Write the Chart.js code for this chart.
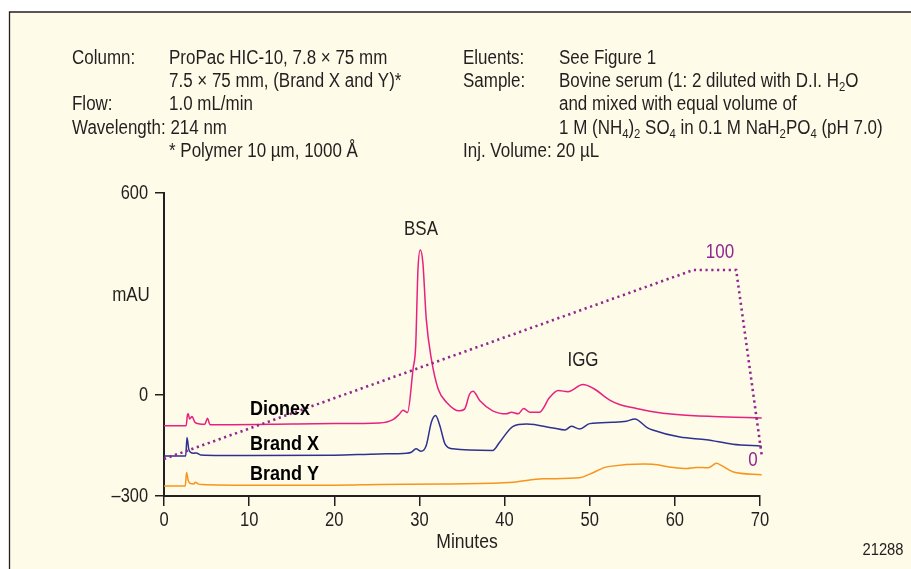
<!DOCTYPE html>
<html>
<head>
<meta charset="utf-8">
<script src="https://cdn.jsdelivr.net/npm/chart.js@4.4.1/dist/chart.umd.min.js"></script>
<style>
html,body{margin:0;padding:0;background:#fff;}
canvas{display:block;}
</style>
</head>
<body>
<canvas id="c" width="911" height="569"></canvas>
<script>
// ---- data ----
const xTicks = [0, 10, 20, 30, 40, 50, 60, 70];
const yTicks = [-300, 0, 600];

const dionexTime = [0, 2.6, 2.75, 2.85, 3.0, 3.3, 3.6, 4.2, 4.8, 5.1, 5.4, 8, 15, 20, 25.3, 26.9, 27.6, 28.07, 28.6, 29.25, 29.56, 29.83, 30.1, 30.4, 30.8, 31.4, 32.2, 33.2, 34.7, 35.3, 35.9, 36.3, 37.1, 38.6, 40.2, 40.8, 41.6, 42.25, 42.95, 44.1, 45.3, 46.3, 47.45, 49.2, 50.4, 52.35, 53.5, 55.5, 57.05, 60.2, 64.5, 70.2];
const dionexMAU  = [-91, -91, -60, -56, -71, -64, -80, -86, -87, -69, -88, -88, -86, -85, -83, -73, -58, -45, -52, 77, 146, 374, 431, 394, 226, 107, 18, -22, -47, -42, 3, 11, -17, -47, -56, -51, -56, -40, -51, -51, -7, 13, 10, 31, 20, -15, -28, -40, -48, -58, -64, -68];

const brandXTime = [0, 2.55, 2.7, 2.9, 3.1, 3.5, 3.8, 4.3, 10, 20, 25.3, 28.5, 29.05, 29.6, 30.2, 30.8, 31.4, 31.9, 32.4, 33.0, 33.9, 38.6, 39.4, 41.0, 42.6, 45.7, 47.1, 47.85, 48.8, 50.0, 52.7, 54.3, 55.3, 56.7, 57.4, 60.6, 63.7, 66.8, 70.2];
const brandXMAU  = [-181, -181, -126, -160, -170, -173, -172, -178, -180, -179, -175, -173, -170, -160, -167, -150, -81, -61, -91, -145, -160, -165, -141, -93, -86, -98, -104, -93, -101, -85, -81, -78, -71, -96, -104, -125, -133, -146, -152];

const brandYTime = [0, 2.5, 2.65, 2.85, 3.1, 3.5, 3.7, 4.0, 4.5, 10, 20, 25.3, 33.2, 41.0, 44.5, 48.8, 50.0, 51.8, 52.35, 56.3, 57.4, 59.8, 61.4, 62.5, 63.9, 64.9, 65.5, 66.8, 70.2];
const brandYMAU  = [-270, -270, -230, -255, -263, -264, -259, -264, -266, -268, -268, -266, -264, -259, -249, -246, -235, -215, -212, -205, -206, -215, -218, -215, -216, -203, -210, -228, -237];

const gradientTime = [0, 62.2, 67.2, 70.2];
const gradientPct  = [0, 100, 100, 2];

// ---- helpers ----
function pts(t, v) { return t.map((x, i) => ({ x: x, y: v[i] })); }

const FONT = '"Liberation Sans", Arial, sans-serif';
const INK = '#231F20';
const PINK = '#E8207F';
const BLUE = '#2E3192';
const ORANGE = '#F7941D';
const PURPLE = '#92278F';
const SX = 0.87;   // horizontal condensing to imitate a condensed face

function T(ctx, str, x, y, o) {
  o = o || {};
  const size = o.size || 19.5;
  const sx = o.sx || SX;
  ctx.save();
  ctx.font = (o.bold ? 'bold ' : '') + size + 'px ' + FONT;
  ctx.fillStyle = o.color || INK;
  ctx.textAlign = o.align || 'left';
  ctx.textBaseline = o.base || 'alphabetic';
  ctx.translate(x, y);
  ctx.scale(sx, 1);
  ctx.fillText(str, 0, 0);
  ctx.restore();
}

function rich(ctx, x, y, segs, size) {
  let cx = x;
  segs.forEach(s => {
    const sub = Array.isArray(s);
    const txt = sub ? s[0] : s;
    const fs = sub ? Math.round(size * 0.68) : size;
    ctx.font = fs + 'px ' + FONT;
    T(ctx, txt, cx, sub ? y + 4 : y, { size: fs });
    cx += ctx.measureText(txt).width * SX;
  });
}

const decor = {
  id: 'decor',
  beforeDraw(chart) {
    const ctx = chart.ctx;
    ctx.save();
    ctx.fillStyle = '#ffffff';
    ctx.fillRect(0, 0, 911, 569);
    ctx.fillStyle = '#FEFCE8';
    ctx.fillRect(10, 12, 901, 557);
    ctx.strokeStyle = '#231F20';
    ctx.lineWidth = 1.3;
    ctx.beginPath();
    ctx.moveTo(9.5, 569); ctx.lineTo(9.5, 12); ctx.lineTo(911, 12);
    ctx.stroke();
    ctx.restore();
  },
  afterDraw(chart) {
    const ctx = chart.ctx;
    const S = 19.5;
    const rows = [64, 87, 110, 134, 157];
    const L1 = 72, L2 = 169, R1 = 463, R2 = 559;
    T(ctx, 'Column:', L1, rows[0]);
    T(ctx, 'ProPac HIC-10, 7.8 \u00D7 75 mm', L2, rows[0]);
    T(ctx, '7.5 \u00D7 75 mm, (Brand X and Y)*', L2, rows[1]);
    T(ctx, 'Flow:', L1, rows[2]);
    T(ctx, '1.0 mL/min', L2, rows[2]);
    T(ctx, 'Wavelength: 214 nm', L1, rows[3]);
    T(ctx, '* Polymer 10 \u00B5m, 1000 \u00C5', L2, rows[4]);

    T(ctx, 'Eluents:', R1, rows[0]);
    T(ctx, 'See Figure 1', R2, rows[0]);
    T(ctx, 'Sample:', R1, rows[1]);
    rich(ctx, R2, rows[1], ['Bovine serum (1: 2 diluted with D.I. H', ['2'], 'O'], S);
    T(ctx, 'and mixed with equal volume of', R2, rows[2]);
    rich(ctx, R2, rows[3], ['1 M (NH', ['4'], ')', ['2'], ' SO', ['4'], ' in 0.1 M NaH', ['2'], 'PO', ['4'], ' (pH 7.0)'], S);
    T(ctx, 'Inj. Volume: 20 \u00B5L', R1, rows[4]);

    // tick labels, placed through the library's scales
    const xs = chart.scales.x, ys = chart.scales.y;
    xTicks.forEach(v => T(ctx, String(v), xs.getPixelForValue(v), 521, { align: 'center', base: 'middle', sx: 0.85 }));
    yTicks.forEach(v => T(ctx, v < 0 ? '\u2013' + Math.abs(v) : String(v), 148, ys.getPixelForValue(v) + 1, { align: 'right', base: 'middle', sx: 0.84 }));

    const mid = { align: 'center', base: 'middle' };
    T(ctx, 'mAU', 131, 296, mid);
    T(ctx, 'BSA', 421, 230, mid);
    T(ctx, 'IGG', 583, 361, mid);
    T(ctx, 'Minutes', 467, 543, { align: 'center', base: 'middle', sx: 0.9 });
    T(ctx, '21288', 883, 550, { align: 'center', base: 'middle', size: 17, sx: 0.87 });

    T(ctx, '100', 720, 253, { align: 'center', base: 'middle', color: PURPLE });
    T(ctx, '0', 753, 461, { align: 'center', base: 'middle', color: PURPLE });

    const b = { bold: true, size: 20, sx: 0.9, base: 'middle', color: '#000' };
    T(ctx, 'Dionex', 250, 409, b);
    T(ctx, 'Brand X', 250, 444, b);
    T(ctx, 'Brand Y', 250, 474, b);
  }
};

const lineDs = (label, data, color) => ({
  label, data, borderColor: color, borderWidth: 1.5, pointRadius: 0,
  cubicInterpolationMode: 'monotone', fill: false, yAxisID: 'y'
});

new Chart(document.getElementById('c'), {
  type: 'line',
  data: {
    datasets: [
      {
        label: 'Gradient', data: pts(gradientTime, gradientPct), yAxisID: 'y2',
        borderColor: PURPLE, borderWidth: 2.6, borderDash: [2.2, 3.6], pointRadius: 0,
        tension: 0, fill: false
      },
      lineDs('Brand Y', pts(brandYTime, brandYMAU), ORANGE),
      lineDs('Brand X', pts(brandXTime, brandXMAU), BLUE),
      lineDs('Dionex', pts(dionexTime, dionexMAU), PINK)
    ]
  },
  options: {
    responsive: false,
    devicePixelRatio: 1,
    animation: false,
    clip: false,
    layout: { padding: { top: 193, right: 151, left: 0, bottom: 0 } },
    plugins: { legend: { display: false }, tooltip: { enabled: false } },
    scales: {
      x: {
        type: 'linear', min: 0, max: 70,
        afterFit: s => { s.height = 73; },
        afterBuildTicks: s => { s.ticks = xTicks.map(v => ({ value: v })); },
        ticks: { display: false },
        grid: { drawOnChartArea: false, drawTicks: true, tickLength: 10, color: INK, lineWidth: 1.5 },
        border: { color: INK, width: 2 }
      },
      y: {
        type: 'linear', min: -300, max: 600,
        afterFit: s => { s.width = 164; },
        afterBuildTicks: s => { s.ticks = yTicks.map(v => ({ value: v })); },
        ticks: { display: false },
        grid: { drawOnChartArea: false, drawTicks: true, tickLength: 9, color: INK, lineWidth: 1.5 },
        border: { color: INK, width: 2 }
      },
      y2: { type: 'linear', display: false, min: -19.6, max: 140.7 }
    }
  },
  plugins: [decor]
});
</script>
</body>
</html>
